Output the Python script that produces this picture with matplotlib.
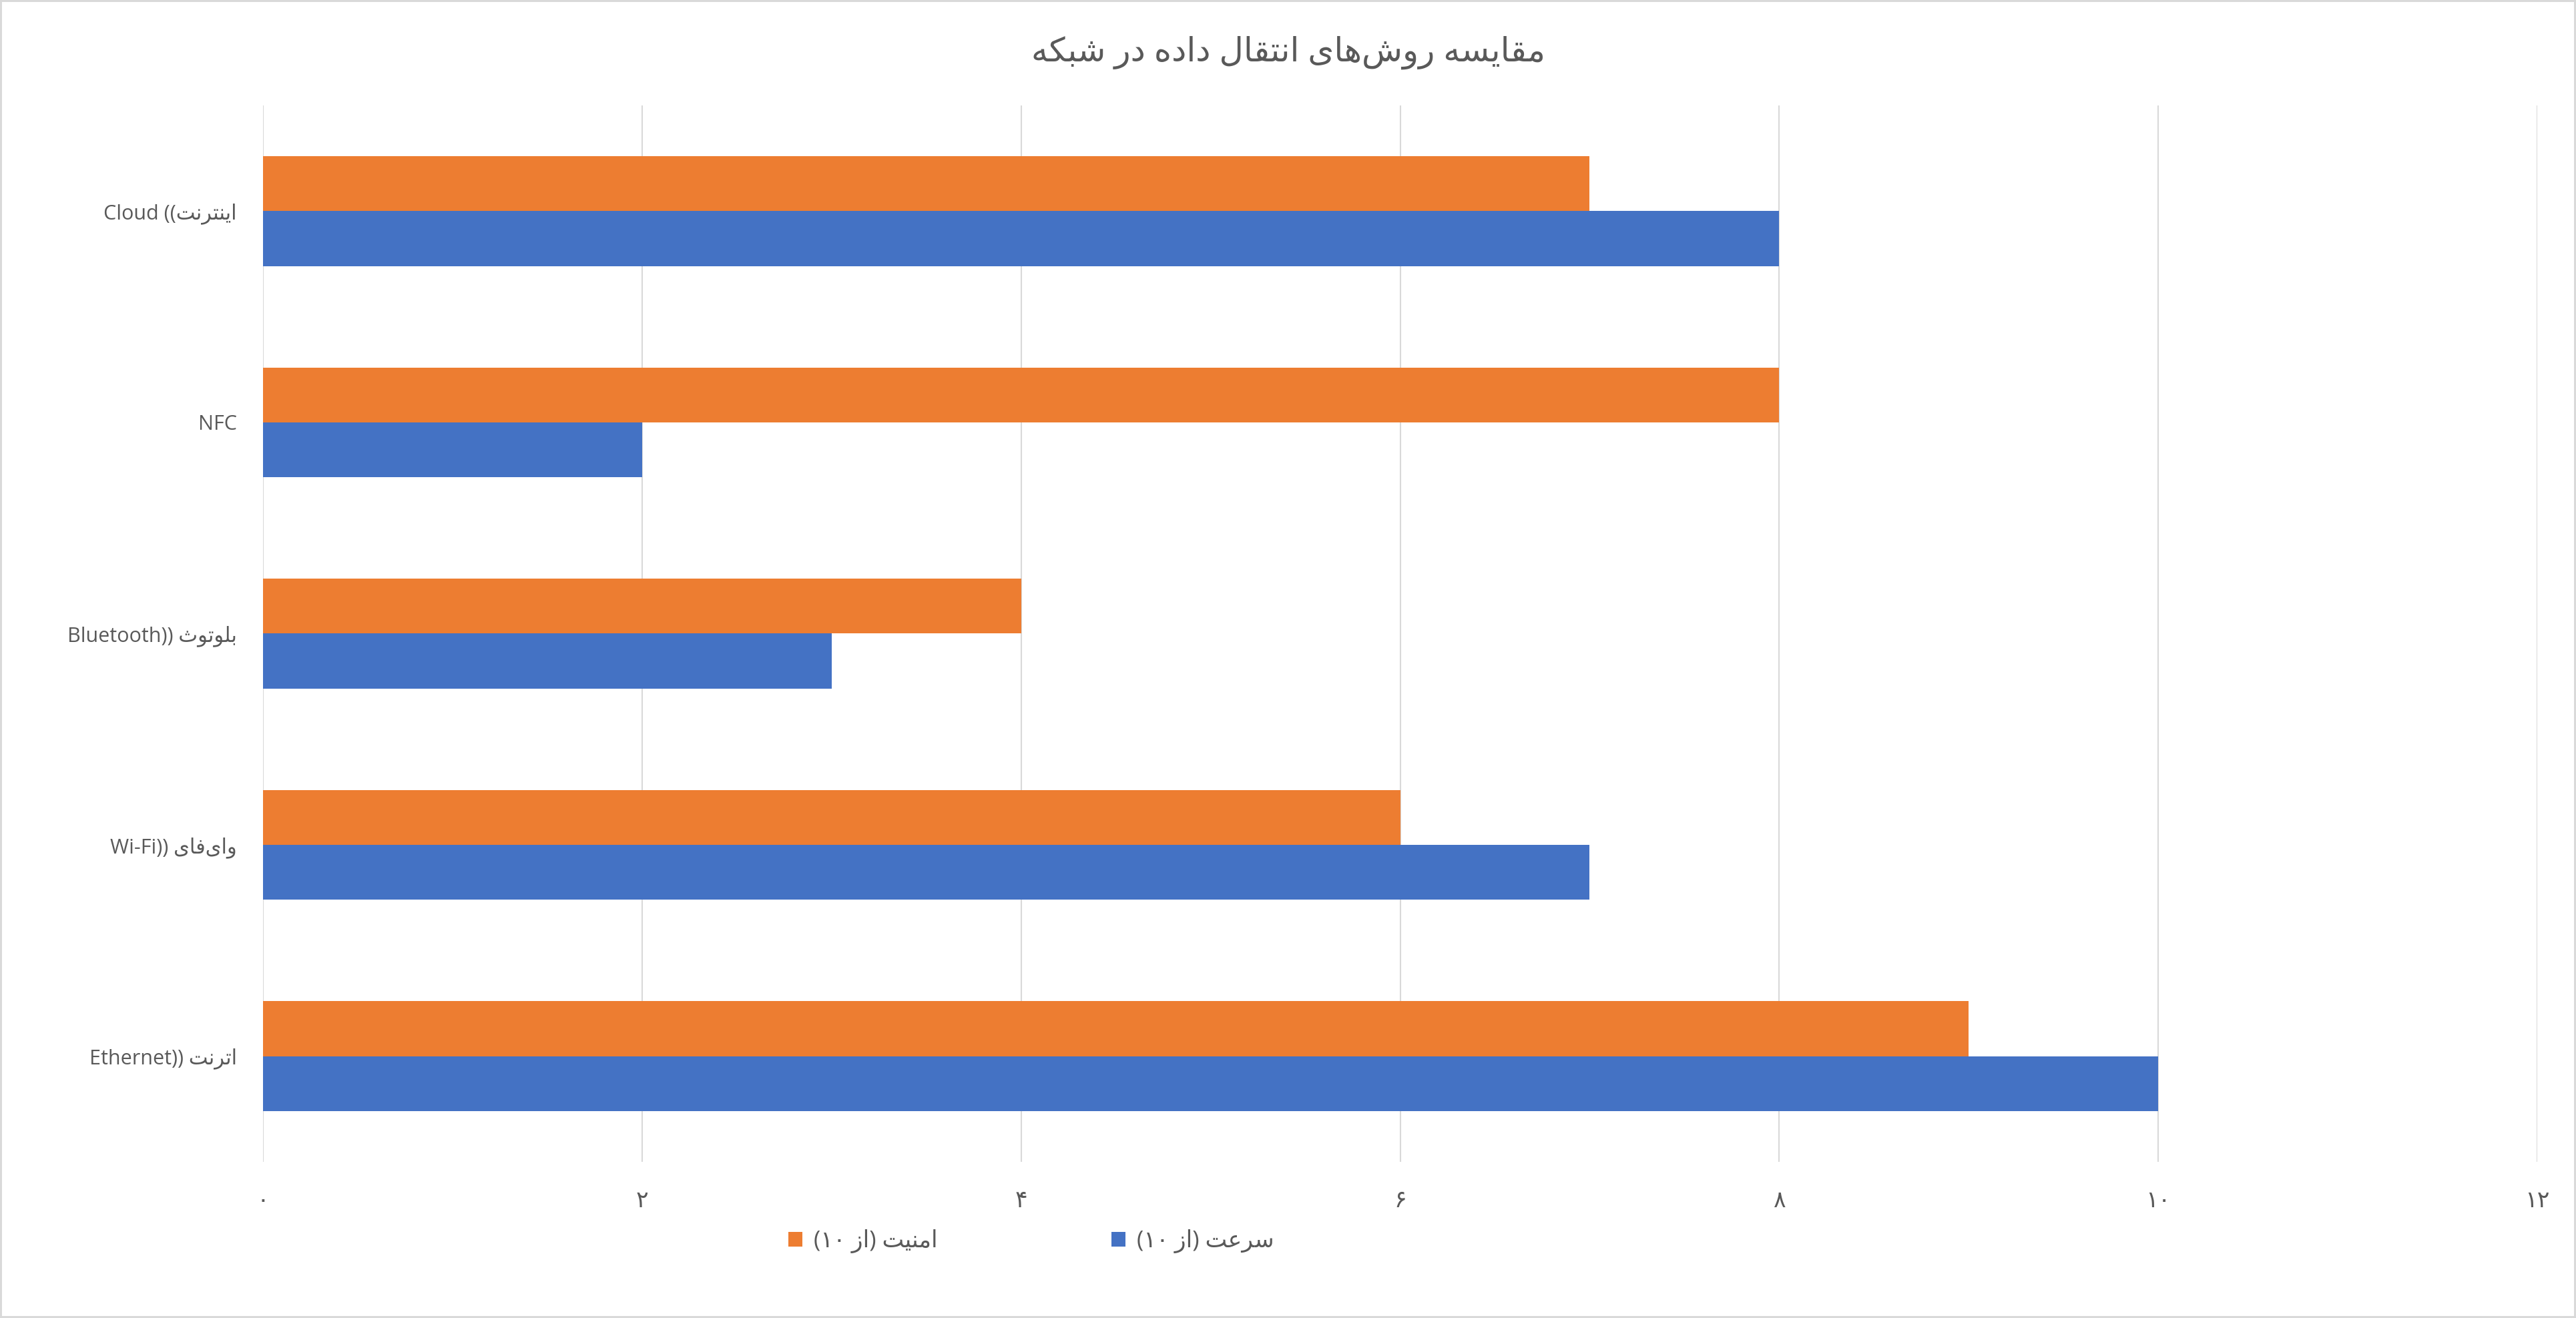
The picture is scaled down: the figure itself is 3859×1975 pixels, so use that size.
import re
import matplotlib
matplotlib.use('Agg')
import matplotlib.pyplot as plt
import numpy as np

# داده‌ها (از پایین به بالا در نمودار)
categories = ['Ethernet)) اترنت', 'Wi-Fi)) وای‌فای', 'Bluetooth)) بلوتوث', 'NFC', 'Cloud ((اینترنت']
speed = [10, 7, 3, 2, 8]      # سرعت (از ۱۰)
security = [9, 6, 4, 8, 7]    # امنیت (از ۱۰)
series_names = ['(۱۰ از) امنیت', '(۱۰ از) سرعت']
title = 'مقایسه روش‌های انتقال داده در شبکه'
xticks = [0, 2, 4, 6, 8, 10, 12]

# matplotlib حروف فارسی را نمی‌چسباند، پس شکل‌های اتصال را دستی انتخاب می‌کنیم
FORMS = {
    'ا': ('\uFE8D', '\uFE8E', None, None),
    'ب': ('\uFE8F', '\uFE90', '\uFE91', '\uFE92'),
    'ت': ('\uFE95', '\uFE96', '\uFE97', '\uFE98'),
    'ث': ('\uFE99', '\uFE9A', '\uFE9B', '\uFE9C'),
    'د': ('\uFEA9', '\uFEAA', None, None),
    'ر': ('\uFEAD', '\uFEAE', None, None),
    'ز': ('\uFEAF', '\uFEB0', None, None),
    'س': ('\uFEB1', '\uFEB2', '\uFEB3', '\uFEB4'),
    'ش': ('\uFEB5', '\uFEB6', '\uFEB7', '\uFEB8'),
    'ع': ('\uFEC9', '\uFECA', '\uFECB', '\uFECC'),
    'ف': ('\uFED1', '\uFED2', '\uFED3', '\uFED4'),
    'ق': ('\uFED5', '\uFED6', '\uFED7', '\uFED8'),
    'ک': ('\uFED9', '\uFEDA', '\uFEDB', '\uFEDC'),
    'ل': ('\uFEDD', '\uFEDE', '\uFEDF', '\uFEE0'),
    'م': ('\uFEE1', '\uFEE2', '\uFEE3', '\uFEE4'),
    'ن': ('\uFEE5', '\uFEE6', '\uFEE7', '\uFEE8'),
    'ه': ('\uFEE9', '\uFEEA', '\uFEEB', '\uFEEC'),
    'و': ('\uFEED', '\uFEEE', None, None),
    'ی': ('\uFEEF', '\uFEF0', '\uFEF3', '\uFEF4'),
}


def shape(word):
    out = []
    for i, c in enumerate(word):
        if c == '\u200c':
            continue
        if c not in FORMS:
            out.append(c)
            continue
        prev = word[i - 1] if i > 0 else None
        nxt = word[i + 1] if i + 1 < len(word) else None
        jp = prev in FORMS and FORMS[prev][2] is not None
        jn = nxt in FORMS and FORMS[c][2] is not None
        iso, fin, ini, med = FORMS[c]
        if jp and jn:
            out.append(med)
        elif jp:
            out.append(fin)
        elif jn:
            out.append(ini)
        else:
            out.append(iso)
    return ''.join(out)


LETTERS = '[\u0621-\u064A\u06A9\u06CC\u200c]+'


def fa(s):
    # هر بخش فارسی را شکل‌دهی و برعکس می‌کنیم
    return re.sub(LETTERS + '(?: ' + LETTERS + ')*', lambda m: shape(m.group(0))[::-1], s)


def fa_digits(n):
    return str(n).translate(str.maketrans('0123456789', '۰۱۲۳۴۵۶۷۸۹'))


plt.rcParams['font.family'] = ['Open Sans', 'DejaVu Sans']
text_color = '#595959'
grid_color = '#D9D9D9'

fig = plt.figure(figsize=(38.59, 19.75), dpi=100)
fig.patch.set_edgecolor(grid_color)
fig.patch.set_linewidth(4)
ax = fig.add_axes([0.1021, 0.1185, 0.8829, 0.8015])

y = np.arange(len(categories))
h = 0.26
ax.barh(y + h / 2, security, height=h, color='#ED7D31', label=fa(series_names[0]), zorder=3)
ax.barh(y - h / 2, speed, height=h, color='#4472C4', label=fa(series_names[1]), zorder=3)

ax.set_xlim(0, 12)
ax.set_ylim(-0.5, len(categories) - 0.5)
ax.set_xticks(xticks)
ax.set_xticklabels([fa_digits(v) for v in xticks])
ax.set_yticks(y)
ax.set_yticklabels([fa(c) for c in categories])
ax.tick_params(axis='both', length=0, colors=text_color)
ax.tick_params(axis='x', pad=30, labelsize=25)
ax.tick_params(axis='y', pad=28, labelsize=22)
ax.grid(axis='x', color=grid_color, linewidth=1.5, zorder=0)
for s in ax.spines.values():
    s.set_visible(False)

fig.text(0.5, 1 - 79 / 1975, fa(title), ha='center', va='center', fontsize=36, color=text_color)

leg = fig.legend(loc='center', bbox_to_anchor=(1545 / 3859, 1 - 1860 / 1975), ncol=2, frameon=False,
                 fontsize=25, handlelength=0.6, handleheight=0.6, columnspacing=7.5, handletextpad=0.5)
for t in leg.get_texts():
    t.set_color(text_color)

fig.savefig('out.png', dpi=100)
